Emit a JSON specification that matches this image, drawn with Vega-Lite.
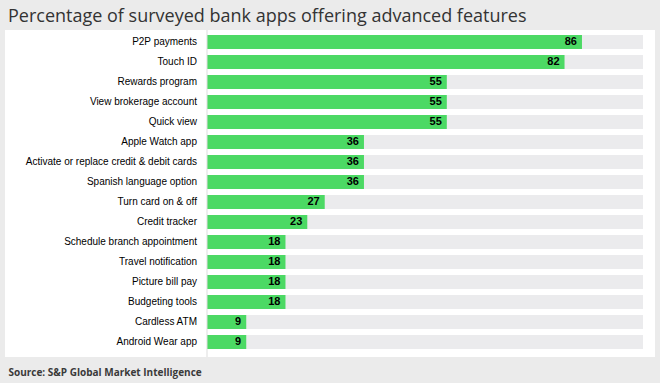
{
  "$schema": "https://vega.github.io/schema/vega-lite/v6.json",
  "autosize": "none",
  "width": 650,
  "height": 327,
  "padding": {"left": 5, "top": 30, "right": 5, "bottom": 26},
  "background": "#ebebeb",
  "config": {"view": {"fill": "white", "stroke": null}},
  "title": {
    "text": "Percentage of surveyed bank apps offering advanced features",
    "anchor": "start",
    "frame": "group",
    "font": "Open Sans",
    "fontSize": 18,
    "fontWeight": "normal",
    "color": "#333333",
    "offset": 4,
    "dx": 3
  },
  "data": {
    "values": [
      {"feature": "P2P payments", "pct": 86},
      {"feature": "Touch ID", "pct": 82},
      {"feature": "Rewards program", "pct": 55},
      {"feature": "View brokerage account", "pct": 55},
      {"feature": "Quick view", "pct": 55},
      {"feature": "Apple Watch app", "pct": 36},
      {"feature": "Activate or replace credit & debit cards", "pct": 36},
      {"feature": "Spanish language option", "pct": 36},
      {"feature": "Turn card on & off", "pct": 27},
      {"feature": "Credit tracker", "pct": 23},
      {"feature": "Schedule branch appointment", "pct": 18},
      {"feature": "Travel notification", "pct": 18},
      {"feature": "Picture bill pay", "pct": 18},
      {"feature": "Budgeting tools", "pct": 18},
      {"feature": "Cardless ATM", "pct": 9},
      {"feature": "Android Wear app", "pct": 9}
    ]
  },
  "layer": [
    {
      "mark": {"type": "bar", "color": "#ebebed"},
      "encoding": {
        "y": {"field": "feature", "type": "nominal", "sort": null, "axis": null,
              "scale": {"paddingInner": 0.3, "paddingOuter": 0.325, "align": 0.385}},
        "x": {"datum": 0, "type": "quantitative",
              "scale": {"domain": [-46.33, 102.75], "nice": false, "zero": false},
              "axis": {"labels": false, "ticks": false, "domain": false, "grid": false,
                       "title": "Source: S&P Global Market Intelligence",
                       "titleX": 3, "titleY": 18, "titleAnchor": "start", "titleAlign": "left",
                       "titleBaseline": "alphabetic", "titleFont": "Open Sans", "titleFontSize": 10,
                       "titleFontWeight": "bold", "titleColor": "#3a3a3a"}},
        "x2": {"datum": 100}
      }
    },
    {
      "mark": {"type": "bar", "color": "#4cd964"},
      "encoding": {
        "y": {"field": "feature", "type": "nominal", "sort": null},
        "x": {"field": "pct", "type": "quantitative"},
        "x2": {"datum": 0}
      }
    },
    {
      "data": {"values": [{}]},
      "mark": {"type": "rule", "color": "#dddddd", "strokeWidth": 1},
      "encoding": {"x": {"datum": 0, "type": "quantitative"}}
    },
    {
      "mark": {"type": "text", "align": "right", "dx": -10, "font": "Liberation Sans", "fontSize": 10, "color": "#000000"},
      "encoding": {
        "y": {"field": "feature", "type": "nominal", "sort": null},
        "x": {"datum": 0, "type": "quantitative"},
        "text": {"field": "feature"}
      }
    },
    {
      "mark": {"type": "text", "align": "right", "dx": -5, "font": "Liberation Sans", "fontSize": 11, "fontWeight": "bold", "color": "#000000"},
      "encoding": {
        "y": {"field": "feature", "type": "nominal", "sort": null},
        "x": {"field": "pct", "type": "quantitative"},
        "text": {"field": "pct"}
      }
    }
  ]
}
